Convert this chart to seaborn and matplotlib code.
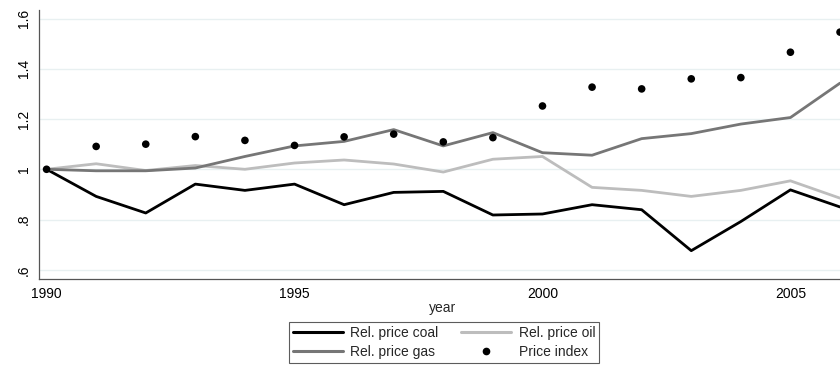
import matplotlib
matplotlib.use("Agg")
import matplotlib.pyplot as plt
from matplotlib.lines import Line2D
import pandas as pd
import seaborn as sns

years = list(range(1990, 2007))
coal = [1.000, 0.892, 0.826, 0.941, 0.916, 0.941, 0.859, 0.908, 0.912, 0.818,
        0.822, 0.859, 0.839, 0.676, 0.792, 0.918, 0.850]
oil = [1.000, 1.022, 0.995, 1.015, 1.000, 1.025, 1.037, 1.021, 0.989, 1.040,
       1.051, 0.928, 0.916, 0.892, 0.916, 0.954, 0.885]
gas = [1.000, 0.994, 0.994, 1.005, 1.051, 1.093, 1.111, 1.158, 1.093, 1.146,
       1.066, 1.056, 1.122, 1.142, 1.180, 1.206, 1.343]
price_index = [1.000, 1.091, 1.100, 1.130, 1.115, 1.095, 1.129, 1.140, 1.109, 1.126,
               1.252, 1.327, 1.320, 1.360, 1.365, 1.466, 1.546]

y_ticks = [0.6, 0.8, 1.0, 1.2, 1.4, 1.6]
y_tick_labels = [".6", ".8", "1", "1.2", "1.4", "1.6"]
x_ticks = [1990, 1995, 2000, 2005]

series_names = ["Rel. price coal", "Rel. price oil", "Rel. price gas"]
series_colors = {"Rel. price coal": "#000000",
                 "Rel. price oil": "#bdbdbd",
                 "Rel. price gas": "#767676"}

sns.set_style("white")
plt.rcParams["font.family"] = ["Liberation Sans", "DejaVu Sans"]
FS = 10

lines_df = pd.DataFrame({
    "year": years * 3,
    "value": coal + oil + gas,
    "series": [s for s in series_names for _ in years],
})
points_df = pd.DataFrame({"year": years, "value": price_index})

fig = plt.figure(figsize=(8.4, 3.67), dpi=100)
# plot region runs slightly past the right edge of the canvas
ax_left, ax_right = 0.0464, 1.0083
ax = fig.add_axes([ax_left, 0.241, ax_right - ax_left, 0.972 - 0.241])

ax.set_axisbelow(True)
ax.grid(axis="y", color="#e8f0f1", linewidth=1.0)

sns.lineplot(data=lines_df, x="year", y="value", hue="series",
             hue_order=series_names, palette=series_colors,
             linewidth=2.0, legend=False, ax=ax)
sns.scatterplot(data=points_df, x="year", y="value", color="black",
                s=30, edgecolor="none", legend=False, ax=ax, zorder=3)

ax.set_xlim(1989.847, 2006.14)
ax.set_ylim(0.565, 1.633)
ax.set_xticks(x_ticks)
ax.set_xticklabels([str(x) for x in x_ticks], fontsize=FS)
ax.set_yticks(y_ticks)
ax.set_yticklabels(y_tick_labels, fontsize=FS, rotation=90, va="center")
ax.set_xlabel("year", fontsize=FS, labelpad=0)
ax.set_ylabel("")

for side in ["top", "right"]:
    ax.spines[side].set_visible(False)
for side in ["left", "bottom"]:
    ax.spines[side].set_color("#555555")
    ax.spines[side].set_linewidth(0.9)
ax.tick_params(axis="both", which="major", direction="out", length=4,
               width=0.8, color="#555555", pad=2, labelcolor="black")

handles = [
    Line2D([], [], color=series_colors["Rel. price coal"], linewidth=2.2),
    Line2D([], [], color=series_colors["Rel. price gas"], linewidth=2.2),
    Line2D([], [], color=series_colors["Rel. price oil"], linewidth=2.2),
    Line2D([], [], color="black", linestyle="none", marker="o", markersize=4.5),
]
labels = ["Rel. price coal", "Rel. price gas", "Rel. price oil", "Price index"]
leg = fig.legend(handles, labels, ncol=2, loc="upper center",
                 bbox_to_anchor=(0.5286, 0.1225), fontsize=FS, frameon=True,
                 fancybox=False, edgecolor="#333333", handlelength=3.6,
                 handletextpad=0.55, columnspacing=1.6, labelspacing=0.35,
                 borderpad=0.28, borderaxespad=0.0)
leg.get_frame().set_linewidth(0.8)

fig.savefig("out.png", dpi=100)
